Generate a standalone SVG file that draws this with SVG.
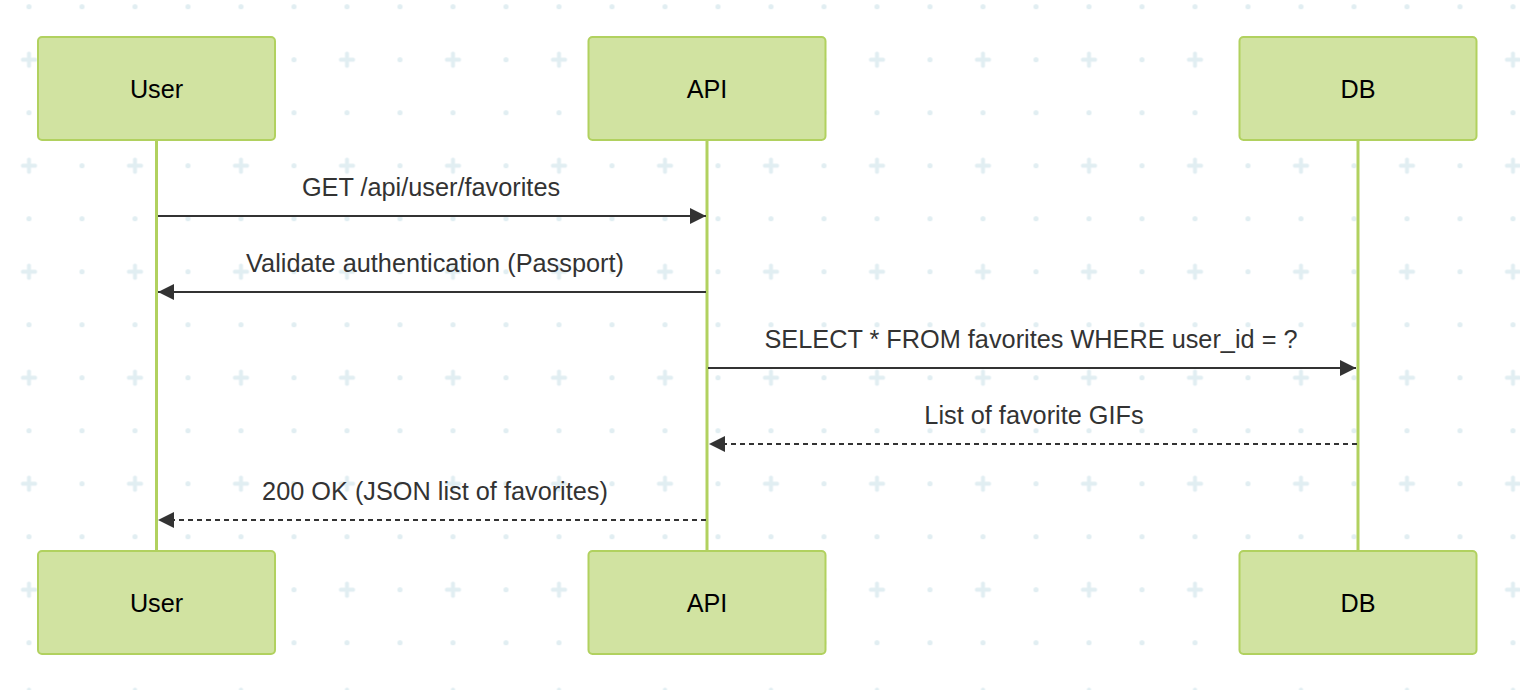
<svg xmlns="http://www.w3.org/2000/svg" width="1520" height="690" viewBox="0 0 1520 690">
<style>
.actor{fill:#d1e3a1;stroke:#b1d15f;stroke-width:2}
.actor-text{font-family:"Liberation Sans",Arial,sans-serif;font-size:25.2px;fill:#000;text-anchor:middle}
.life{stroke:#b1d15f;stroke-width:3}
.msg{stroke:#333;stroke-width:1.8;fill:none}
.dash{stroke-dasharray:5,4}
.msg-text{font-family:"Liberation Sans",Arial,sans-serif;font-size:25.3px;fill:#333;text-anchor:middle}
.bgdot{fill:#e1eef2}
</style>
<defs>
<pattern id="grid" patternUnits="userSpaceOnUse" x="2.5" y="-19.8" width="106" height="106">
<circle class="bgdot" cx="26.5" cy="26.5" r="2.6"/>
<circle class="bgdot" cx="79.5" cy="26.5" r="2.6"/>
<circle class="bgdot" cx="79.5" cy="79.5" r="2.6"/>
<rect class="bgdot" x="18.5" y="77.5" width="16" height="4" rx="1.5"/>
<rect class="bgdot" x="24.5" y="71.5" width="4" height="16" rx="1.5"/>
</pattern>
<marker id="arrow" viewBox="0 0 10 10" refX="10" refY="5" markerUnits="userSpaceOnUse" markerWidth="17" markerHeight="16" orient="auto">
<path d="M0,0 L10,5 L0,10 z" fill="#333"/>
</marker>
</defs>
<rect width="1520" height="690" fill="#fff"/>
<rect width="1520" height="690" fill="url(#grid)"/>
<g id="lifelines">
<line class="life" x1="156.5" y1="140" x2="156.5" y2="551"/>
<line class="life" x1="707" y1="140" x2="707" y2="551"/>
<line class="life" x1="1358" y1="140" x2="1358" y2="551"/>
</g>
<g id="user-top"><rect class="actor" x="38" y="37" width="237" height="103" rx="4"/><text class="actor-text" x="156.5" y="98">User</text></g>
<g id="api-top"><rect class="actor" x="588.5" y="37" width="237" height="103" rx="4"/><text class="actor-text" x="707" y="98">API</text></g>
<g id="db-top"><rect class="actor" x="1239.5" y="37" width="237" height="103" rx="4"/><text class="actor-text" x="1358" y="98">DB</text></g>
<g id="user-bottom"><rect class="actor" x="38" y="551" width="237" height="103" rx="4"/><text class="actor-text" x="156.5" y="612">User</text></g>
<g id="api-bottom"><rect class="actor" x="588.5" y="551" width="237" height="103" rx="4"/><text class="actor-text" x="707" y="612">API</text></g>
<g id="db-bottom"><rect class="actor" x="1239.5" y="551" width="237" height="103" rx="4"/><text class="actor-text" x="1358" y="612">DB</text></g>
<g id="connectors">
<line class="msg" x1="158" y1="216" x2="706" y2="216" marker-end="url(#arrow)"/>
<text class="msg-text" x="431" y="196">GET /api/user/favorites</text>
<line class="msg" x1="706" y1="292" x2="158" y2="292" marker-end="url(#arrow)"/>
<text class="msg-text" x="435" y="272">Validate authentication (Passport)</text>
<line class="msg" x1="708" y1="368" x2="1356" y2="368" marker-end="url(#arrow)"/>
<text class="msg-text" x="1031" y="348">SELECT * FROM favorites WHERE user_id = ?</text>
<line class="msg dash" x1="1357" y1="444" x2="709" y2="444" marker-end="url(#arrow)"/>
<text class="msg-text" x="1034" y="424">List of favorite GIFs</text>
<line class="msg dash" x1="706" y1="520" x2="158" y2="520" marker-end="url(#arrow)"/>
<text class="msg-text" x="435" y="500">200 OK (JSON list of favorites)</text>
</g>
</svg>
